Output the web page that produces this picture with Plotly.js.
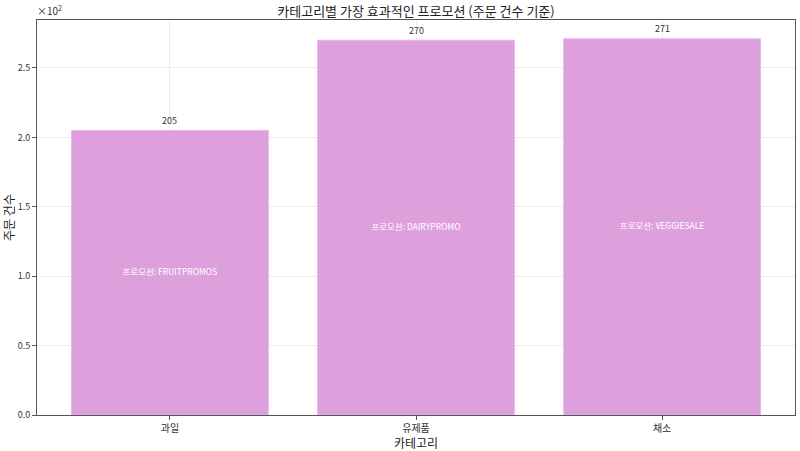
<!DOCTYPE html>
<html>
<head>
<meta charset="utf-8">
<script src="https://cdn.plot.ly/plotly-3.0.1.min.js"></script>
<style>html,body{margin:0;padding:0;background:#fff;}#chart{width:800px;height:451px;}</style>
</head>
<body>
<div id="chart"></div>
<script>
const categories = ["과일", "유제품", "채소"];
const orderCounts = [205, 270, 271];
const promotions = ["FRUITPROMOS", "DAIRYPROMO", "VEGGIESALE"];
const yTickVals = [0, 0.5, 1.0, 1.5, 2.0, 2.5];

const FONT = '"Noto Sans CJK KR", "Noto Sans", sans-serif';
const scaled = orderCounts.map(v => v / 100);

const bars = {
  type: 'bar',
  x: [0, 1, 2],
  y: scaled,
  width: 0.8,
  marker: {color: '#DDA0DD', line: {color: '#E6B8E6', width: 1}},
  hoverinfo: 'skip',
  showlegend: false
};
const midLabels = {
  type: 'scatter', mode: 'text',
  x: [0, 1, 2], y: scaled.map(v => v / 2),
  text: promotions.map(p => '프로모션: ' + p),
  textposition: 'middle center',
  textfont: {family: FONT, size: 8.5, color: '#ffffff'},
  hoverinfo: 'skip', showlegend: false
};

const valueAnnotations = orderCounts.map((v, i) => ({
  x: i, y: v / 100, xref: 'x', yref: 'y',
  text: String(v), showarrow: false,
  xanchor: 'center', yanchor: 'middle', yshift: 10,
  font: {family: FONT, size: 9, color: '#333'}
}));

const layout = {
  width: 800, height: 451,
  margin: {l: 37, r: 5, t: 20, b: 36},
  paper_bgcolor: '#fff', plot_bgcolor: '#fff',
  font: {family: FONT, color: '#333'},
  title: {text: '카테고리별 가장 효과적인 프로모션 (주문 건수 기준)', font: {family: FONT, size: 13, color: '#222'},
          x: 0.52, xanchor: 'center', y: 0.985, yanchor: 'top'},
  xaxis: {
    range: [-0.54, 2.54],
    tickvals: [0, 1, 2], ticktext: categories,
    showgrid: true, gridcolor: '#ececec', gridwidth: 1,
    showline: true, linecolor: '#555', linewidth: 1, mirror: true,
    ticks: 'outside', ticklen: 4, tickcolor: '#555',
    tickfont: {family: FONT, size: 10, color: '#333'},
    title: {text: '카테고리', font: {family: FONT, size: 12, color: '#222'}, standoff: 4},
    zeroline: false
  },
  yaxis: {
    range: [0, 2.8455],
    tickvals: yTickVals, tickformat: '.1f',
    showgrid: true, gridcolor: '#ececec', gridwidth: 1,
    showline: true, linecolor: '#555', linewidth: 1, mirror: true,
    ticks: 'outside', ticklen: 4, tickcolor: '#555',
    tickfont: {family: FONT, size: 9, color: '#333'},
    title: {text: '주문 건수', font: {family: FONT, size: 12, color: '#222'}, standoff: 2},
    zeroline: false
  },
  annotations: [{
    text: '×10<sup>2</sup>', xref: 'paper', yref: 'paper', x: 0, y: 1,
    xanchor: 'left', yanchor: 'bottom', showarrow: false, xshift: -2,
    font: {family: FONT, size: 10, color: '#333'}
  }].concat(valueAnnotations)
};

Plotly.newPlot('chart', [bars, midLabels], layout, {displayModeBar: false, staticPlot: true});
</script>
</body>
</html>
